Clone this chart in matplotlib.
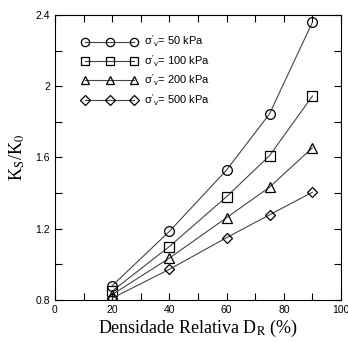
import numpy as np
import matplotlib.pyplot as plt

plt.rcParams['font.family'] = ['Liberation Sans', 'DejaVu Sans']
plt.rcParams['mathtext.fontset'] = 'custom'
plt.rcParams['mathtext.rm'] = 'Liberation Sans'
plt.rcParams['mathtext.it'] = 'Liberation Sans'

dr = [20, 40, 60, 75, 90]
k50 = [0.88, 1.185, 1.53, 1.845, 2.36]
k100 = [0.85, 1.10, 1.38, 1.61, 1.945]
k200 = [0.83, 1.035, 1.262, 1.433, 1.655]
k500 = [0.81, 0.972, 1.15, 1.278, 1.405]
series = [k50, k100, k200, k500]
markers = ['o', 's', '^', 'D']
labels = [r"$\sigma'_\mathrm{v}$= 50 kPa", r"$\sigma'_\mathrm{v}$= 100 kPa",
          r"$\sigma'_\mathrm{v}$= 200 kPa", r"$\sigma'_\mathrm{v}$= 500 kPa"]
xticks = [0, 20, 40, 60, 80, 100]
yticks = [0.8, 1.2, 1.6, 2.0, 2.4]
yticklabels = ['0.8', '1.2', '1.6', '2', '2.4']

fig = plt.figure(figsize=(3.48, 3.42), dpi=100)
ax = fig.add_axes([0.158, 0.123, 0.822, 0.833])

for vals, m, lab in zip(series, markers, labels):
    ms = 5.5 if m == 'D' else 7
    ax.plot(dr, vals, color='#444444', lw=0.8, marker=m, ms=ms,
            mfc='none', mec='black', mew=0.9, label=lab)

ax.set_xlim(0, 100)
ax.set_ylim(0.8, 2.4)
ax.set_xticks(xticks)
ax.set_xticks(range(10, 100, 20), minor=True)
ax.set_yticks(yticks)
ax.set_yticklabels(yticklabels)
ax.set_yticks([1.0, 1.4, 1.8, 2.2], minor=True)
ax.tick_params(which='both', direction='in', top=True, right=True, labelsize=7.5, width=0.8, length=5)

ax.set_xlabel(r"Densidade Relativa D$_\mathrm{R}$ (%)", family='Liberation Serif', fontsize=13, labelpad=2)
ax.set_ylabel(r"K$_\mathrm{S}$/K$_\mathrm{0}$", family='Liberation Serif', fontsize=13, labelpad=6)
ax.xaxis.label.set_math_fontfamily('stix')
ax.yaxis.label.set_math_fontfamily('stix')

ax.legend(loc='upper left', bbox_to_anchor=(0.06, 0.97), frameon=False,
          numpoints=3, handlelength=5.0, fontsize=8, labelspacing=0.35,
          handletextpad=0.6, markerscale=0.85)

fig.savefig('out.png', dpi=100)
